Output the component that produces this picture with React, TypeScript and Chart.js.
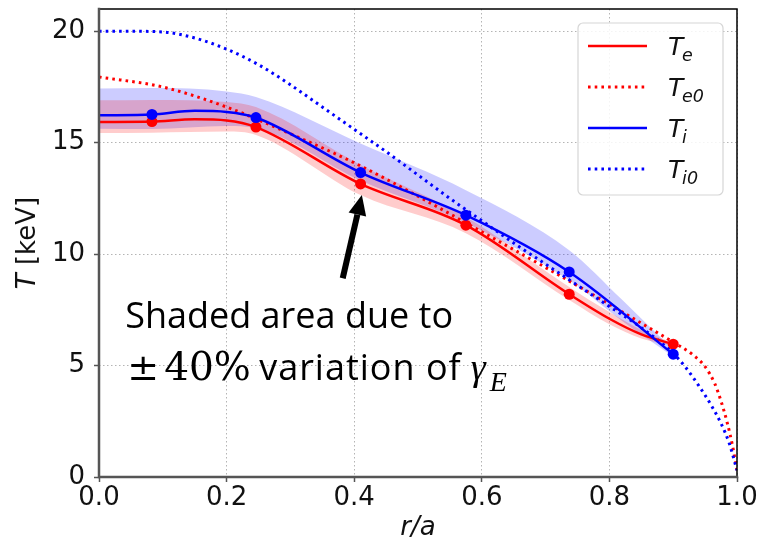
import React, { useEffect, useRef } from 'react';
import { Chart, registerables } from 'chart.js';

Chart.register(...registerables);

// Axis ticks
const xTickValues = [0, 0.2, 0.4, 0.6, 0.8, 1.0];
const yTickValues = [0, 5, 10, 15, 20];

// Simulated profiles at the flux-tube radii
const rSim = [0.083, 0.246, 0.41, 0.575, 0.737, 0.9];
const teSim = [15.95, 15.7, 13.15, 11.3, 8.2, 5.96];
const tiSim = [16.27, 16.13, 13.66, 11.75, 9.2, 5.51];

// Smooth fitted profiles
const teFitR = [0, 0.083, 0.15, 0.2, 0.246, 0.41, 0.575, 0.737, 0.8, 0.85, 0.9];
const teFit = [15.93, 15.95, 16.05, 16.0, 15.7, 13.15, 11.3, 8.2, 7.1, 6.4, 5.96];
const tiFitR = [0, 0.083, 0.15, 0.2, 0.246, 0.41, 0.575, 0.737, 0.9];
const tiFit = [16.23, 16.27, 16.43, 16.38, 16.13, 13.66, 11.75, 9.2, 5.51];

// Envelope from +/-40% gamma_E variation
const teBandR = [0, 0.083, 0.2, 0.246, 0.41, 0.575, 0.737, 0.8, 0.85, 0.9];
const teUpper = [16.9, 16.92, 16.83, 16.6, 14.0, 11.67, 8.53, 7.4, 6.6, 6.02];
const teLower = [15.44, 15.45, 15.5, 15.35, 12.65, 10.94, 7.94, 6.85, 6.22, 5.9];
const tiBandR = [0, 0.083, 0.2, 0.246, 0.41, 0.575, 0.737, 0.82, 0.9];
const tiUpper = [17.43, 17.45, 17.3, 17.05, 14.96, 12.87, 10.18, 7.95, 5.7];
const tiLower = [15.63, 15.62, 15.75, 15.65, 13.3, 11.4, 8.83, 7.0, 5.4];

// Initial (reference) profiles
const te0R = [0, 0.1, 0.2, 0.3, 0.4, 0.5, 0.6, 0.7, 0.8, 0.85, 0.9, 0.93, 0.95, 0.965, 0.975, 0.985, 0.993, 1.0];
const te0 = [17.95, 17.5, 16.6, 15.4, 14.1, 12.6, 11.0, 9.4, 7.75, 6.9, 6.05, 5.5, 4.95, 4.2, 3.4, 2.4, 1.4, 0.3];
const ti0R = [0, 0.05, 0.1, 0.15, 0.2, 0.25, 0.3, 0.35, 0.4, 0.45, 0.5, 0.55, 0.6, 0.65, 0.7, 0.75, 0.8, 0.85, 0.9, 0.92, 0.94, 0.96, 0.975, 0.988, 1.0];
const ti0 = [20, 20, 19.97, 19.7, 19.2, 18.5, 17.6, 16.6, 15.6, 14.6, 13.55, 12.5, 11.5, 10.5, 9.55, 8.6, 7.65, 6.7, 5.55, 4.9, 4.1, 3.2, 2.4, 1.5, 0.3];

// Legend entries
const legendMain = ['T', 'T', 'T', 'T'];
const legendSub = ['e', 'e0', 'i', 'i0'];

const RED = '#ff0000';
const BLUE = '#0000ff';
const DOT = [2.6, 4.1];

const pts = (xs: number[], ys: number[]) => xs.map((x, i) => ({ x, y: ys[i] }));

const FONT = '"DejaVu Sans"';

function drawMath(ctx: CanvasRenderingContext2D, x: number, base: number, main: string, sub: string, size: number) {
  ctx.font = `italic ${size}px ${FONT}`;
  ctx.textBaseline = 'alphabetic';
  ctx.textAlign = 'left';
  ctx.fillText(main, x, base);
  const w = ctx.measureText(main).width;
  const subSize = size * 0.7;
  let sx = x + w - size * 0.05;
  ctx.font = `italic ${subSize}px ${FONT}`;
  for (const ch of sub) {
    ctx.fillText(ch, sx, base + size * 0.22);
    sx += ctx.measureText(ch).width;
  }
}

const decor = {
  id: 'decor',
  afterDraw(chart: any) {
    const { ctx, chartArea: a, scales } = chart;
    const xs = scales.x;
    const ys = scales.y;
    ctx.save();

    // frame
    ctx.lineCap = 'square';
    ctx.strokeStyle = '#000';
    ctx.lineWidth = 1.5;
    ctx.beginPath();
    ctx.moveTo(a.left, a.top);
    ctx.lineTo(a.right, a.top);
    ctx.lineTo(a.right, a.bottom);
    ctx.stroke();
    ctx.strokeStyle = '#555';
    ctx.lineWidth = 2.5;
    ctx.beginPath();
    ctx.moveTo(a.left, a.top);
    ctx.lineTo(a.left, a.bottom);
    ctx.lineTo(a.right, a.bottom);
    ctx.stroke();

    // axis titles
    ctx.fillStyle = '#111';
    ctx.save();
    ctx.translate(28, (a.top + a.bottom) / 2);
    ctx.rotate(-Math.PI / 2);
    ctx.textBaseline = 'middle';
    ctx.textAlign = 'left';
    ctx.font = `italic 26px ${FONT}`;
    const wT = ctx.measureText('T').width;
    ctx.font = `26px ${FONT}`;
    const wRest = ctx.measureText(' [keV]').width;
    const start = -(wT + wRest) / 2;
    ctx.font = `italic 26px ${FONT}`;
    ctx.fillText('T', start, 0);
    ctx.font = `26px ${FONT}`;
    ctx.fillText(' [keV]', start + wT, 0);
    ctx.restore();

    ctx.font = `italic 26px ${FONT}`;
    ctx.textAlign = 'center';
    ctx.textBaseline = 'middle';
    ctx.fillText('r/a', (a.left + a.right) / 2, 528);

    // legend
    const lx = 578, ly = 23, lw = 145, lh = 172, rr = 5;
    ctx.beginPath();
    ctx.moveTo(lx + rr, ly);
    ctx.arcTo(lx + lw, ly, lx + lw, ly + lh, rr);
    ctx.arcTo(lx + lw, ly + lh, lx, ly + lh, rr);
    ctx.arcTo(lx, ly + lh, lx, ly, rr);
    ctx.arcTo(lx, ly, lx + lw, ly, rr);
    ctx.closePath();
    ctx.fillStyle = 'rgba(255,255,255,0.85)';
    ctx.fill();
    ctx.strokeStyle = '#d6d6d6';
    ctx.lineWidth = 1.2;
    ctx.stroke();
    const colors = [RED, RED, BLUE, BLUE];
    const dashed = [false, true, false, true];
    for (let i = 0; i < 4; i++) {
      const cy = 46 + i * 41;
      ctx.strokeStyle = colors[i];
      ctx.lineWidth = dashed[i] ? 3 : 2.5;
      ctx.lineCap = 'butt';
      ctx.setLineDash(dashed[i] ? DOT : []);
      ctx.beginPath();
      ctx.moveTo(588, cy);
      ctx.lineTo(647, cy);
      ctx.stroke();
      ctx.setLineDash([]);
      ctx.fillStyle = '#111';
      drawMath(ctx, 668, cy + 9, legendMain[i], legendSub[i], 25);
    }

    // annotation arrow
    const tx = xs.getPixelForValue(0.412), ty = ys.getPixelForValue(12.65);
    const fx = xs.getPixelForValue(0.382), fy = ys.getPixelForValue(8.92);
    const ang = Math.atan2(ty - fy, tx - fx);
    const headL = 20, headW = 9;
    const bx = tx - headL * Math.cos(ang), by = ty - headL * Math.sin(ang);
    ctx.strokeStyle = '#000';
    ctx.fillStyle = '#000';
    ctx.lineWidth = 6;
    ctx.lineCap = 'butt';
    ctx.beginPath();
    ctx.moveTo(fx, fy);
    ctx.lineTo(bx, by);
    ctx.stroke();
    ctx.beginPath();
    ctx.moveTo(tx, ty);
    ctx.lineTo(bx + headW * Math.sin(ang), by - headW * Math.cos(ang));
    ctx.lineTo(bx - headW * Math.sin(ang), by + headW * Math.cos(ang));
    ctx.closePath();
    ctx.fill();

    // annotation text
    const ax = xs.getPixelForValue(0.041);
    const b1 = ys.getPixelForValue(6.68);
    const b2 = ys.getPixelForValue(4.35);
    ctx.fillStyle = '#000';
    ctx.textAlign = 'left';
    ctx.textBaseline = 'alphabetic';
    ctx.font = '36px "Open Sans"';
    ctx.fillText('Shaded area due to', ax, b1);
    ctx.font = '38px "DejaVu Serif"';
    ctx.fillText('\u00b1', ax + 2, b2);
    ctx.font = '39px "DejaVu Serif"';
    ctx.fillText('40%', ax + 39, b2);
    ctx.font = '36px "Open Sans"';
    (ctx as any).letterSpacing = '1px';
    let cx = ax + 134;
    ctx.fillText('variation of', cx, b2);
    cx += ctx.measureText('variation of').width + 9;
    (ctx as any).letterSpacing = '0px';
    ctx.font = 'italic 38px "Liberation Serif"';
    ctx.fillText('\u03b3', cx, b2);
    cx += ctx.measureText('\u03b3').width + 4;
    ctx.font = 'italic 28px "Liberation Serif"';
    ctx.fillText('E', cx, b2 + 11);

    ctx.restore();
  },
};

export default function App() {
  const ref = useRef<HTMLCanvasElement>(null);

  useEffect(() => {
    if (!ref.current) return;
    Chart.defaults.font.family = FONT;
    const band = (data: any, color: string, fill: any, order: number) => ({
      data,
      borderWidth: 0,
      borderColor: 'transparent',
      backgroundColor: color,
      pointRadius: 0,
      fill,
      cubicInterpolationMode: 'monotone',
      order,
    });
    const line = (data: any, color: string, dashed: boolean, order: number) => ({
      data,
      borderColor: color,
      borderWidth: dashed ? 3 : 2.5,
      borderDash: dashed ? DOT : [],
      borderCapStyle: 'butt',
      pointRadius: 0,
      fill: false,
      cubicInterpolationMode: 'monotone',
      order,
    });
    const markers = (data: any, color: string, order: number) => ({
      data,
      showLine: false,
      pointRadius: 5.5,
      pointBorderWidth: 0,
      pointBackgroundColor: color,
      borderColor: color,
      order,
    });
    const chart = new Chart(ref.current, {
      type: 'line',
      data: {
        datasets: [
          band(pts(tiBandR, tiUpper), 'rgba(0,0,255,0.2)', '+1', 10),
          band(pts(tiBandR, tiLower), 'transparent', false, 10),
          band(pts(teBandR, teUpper), 'rgba(255,0,0,0.2)', '+1', 9),
          band(pts(teBandR, teLower), 'transparent', false, 9),
          line(pts(te0R, te0), RED, true, 6),
          line(pts(ti0R, ti0), BLUE, true, 5),
          line(pts(teFitR, teFit), RED, false, 4),
          line(pts(tiFitR, tiFit), BLUE, false, 3),
          markers(pts(rSim, teSim), RED, 2),
          markers(pts(rSim, tiSim), BLUE, 1),
        ] as any,
      },
      options: {
        animation: false,
        responsive: false,
        maintainAspectRatio: false,
        layout: { padding: { left: 0, top: 9, right: 26, bottom: 0 } },
        plugins: { legend: { display: false }, tooltip: { enabled: false } },
        scales: {
          x: {
            type: 'linear',
            min: 0,
            max: 1,
            afterBuildTicks: (s: any) => { s.ticks = xTickValues.map((v) => ({ value: v })); },
            afterFit: (s: any) => { s.height = 71; s.paddingLeft = 0; s.paddingRight = 0; },
            ticks: {
              callback: (v: any) => Number(v).toFixed(1),
              font: { size: 26, family: FONT },
              color: '#111',
              padding: 1,
              maxRotation: 0,
              autoSkip: false,
            },
            grid: { color: '#b4b4b4', lineWidth: 1, tickColor: '#555', tickLength: 5, tickWidth: 1.5 },
            border: { display: false, dash: [1.5, 2.5] },
          },
          y: {
            type: 'linear',
            min: 0,
            max: 21,
            afterBuildTicks: (s: any) => { s.ticks = yTickValues.map((v) => ({ value: v })); },
            afterFit: (s: any) => { s.width = 99; s.paddingTop = 0; s.paddingBottom = 0; },
            ticks: {
              font: { size: 26, family: FONT },
              color: '#111',
              padding: 9,
              autoSkip: false,
            },
            grid: { color: '#b4b4b4', lineWidth: 1, tickColor: '#555', tickLength: 5, tickWidth: 1.5 },
            border: { display: false, dash: [1.5, 2.5] },
          },
        },
      } as any,
      plugins: [decor],
    });
    return () => chart.destroy();
  }, []);

  return (
    <div style={{ position: 'fixed', left: 0, top: 0, width: 763, height: 548, background: '#fff' }}>
      <canvas ref={ref} width={763} height={548} style={{ width: 763, height: 548, display: 'block' }} />
    </div>
  );
}
